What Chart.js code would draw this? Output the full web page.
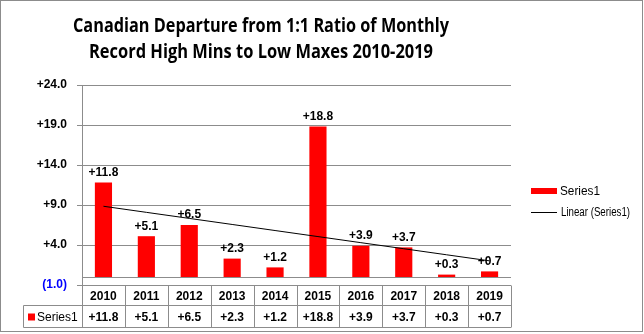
<!DOCTYPE html>
<html>
<head>
<meta charset="utf-8">
<script src="https://cdn.jsdelivr.net/npm/chart.js@4.4.1/dist/chart.umd.min.js"></script>
<style>
  html, body { margin: 0; padding: 0; background: #fff; }
  #wrap { width: 644px; height: 334px; }
</style>
</head>
<body>
<div id="wrap"><canvas id="chart" width="644" height="334"></canvas></div>
<script>
const years = ['2010', '2011', '2012', '2013', '2014', '2015', '2016', '2017', '2018', '2019'];
const series1 = [11.8, 5.1, 6.5, 2.3, 1.2, 18.8, 3.9, 3.7, 0.3, 0.7];
const titleLines = ['Canadian Departure from 1:1 Ratio of Monthly', 'Record High Mins to Low Maxes 2010-2019'];
const yMin = -1, yMax = 24, yStep = 5;

// linear trendline (least squares), as Excel does
function linearFit(vals) {
  const n = vals.length;
  let sx = 0, sy = 0, sxy = 0, sxx = 0;
  vals.forEach(function (v, i) { sx += i; sy += v; sxy += i * v; sxx += i * i; });
  const slope = (n * sxy - sx * sy) / (n * sxx - sx * sx);
  const icpt = (sy - slope * sx) / n;
  return vals.map(function (v, i) { return icpt + slope * i; });
}
const trend = linearFit(series1);

const fmt = function (v) {
  return v < 0 ? '(' + Math.abs(v).toFixed(1) + ')' : '+' + v.toFixed(1);
};

const gridGray = '#8c8c8c';
const font = '"Liberation Sans", Arial, sans-serif';

// draw text squeezed horizontally to a given width (narrow Calibri look)
function fitText(ctx, txt, x, y, w, align) {
  const m = ctx.measureText(txt).width;
  const k = Math.min(1, w / m);
  ctx.save();
  ctx.translate(x, y);
  ctx.scale(k, 1);
  ctx.textAlign = align;
  ctx.fillText(txt, 0, 0);
  ctx.restore();
}

const extras = {
  id: 'extras',
  afterDatasetsDraw(chart) {
    const ctx = chart.ctx;
    const x = chart.scales.x, y = chart.scales.y;
    const area = chart.chartArea;
    ctx.save();

    // horizontal axis at zero
    ctx.strokeStyle = gridGray;
    ctx.lineWidth = 1;
    const y0 = Math.round(y.getPixelForValue(0)) + 0.5;
    ctx.beginPath(); ctx.moveTo(area.left, y0); ctx.lineTo(area.right, y0); ctx.stroke();

    // bar value labels
    ctx.fillStyle = '#000';
    ctx.font = 'bold 12px ' + font;
    ctx.textAlign = 'center';
    ctx.textBaseline = 'bottom';
    chart.getDatasetMeta(0).data.forEach(function (bar, i) {
      ctx.fillText(fmt(series1[i]), bar.x, bar.y - 4);
    });

    // data table
    const top = Math.round(area.bottom) + 0.5;
    const mid = top + 20, bot = top + 42;
    const tLeft = 23.5;
    const step = (area.right - area.left) / years.length;
    ctx.beginPath();
    ctx.moveTo(area.left, top); ctx.lineTo(area.right, top);
    ctx.moveTo(tLeft, mid); ctx.lineTo(area.right, mid);
    ctx.moveTo(tLeft, bot); ctx.lineTo(area.right, bot);
    ctx.moveTo(tLeft, mid); ctx.lineTo(tLeft, bot);
    for (let i = 0; i <= years.length; i++) {
      const xx = Math.round(area.left + i * step) + 0.5;
      ctx.moveTo(xx, top); ctx.lineTo(xx, bot);
    }
    ctx.stroke();

    ctx.textBaseline = 'middle';
    ctx.fillStyle = '#000';
    years.forEach(function (yr, i) {
      const cx = x.getPixelForValue(i);
      ctx.fillText(yr, cx, (top + mid) / 2 + 1);
      ctx.fillText(fmt(series1[i]), cx, (mid + bot) / 2 + 1);
    });
    ctx.fillStyle = '#ff0000';
    ctx.fillRect(28, (mid + bot) / 2 - 3, 7, 7);
    ctx.fillStyle = '#000';
    ctx.font = '12px ' + font;
    fitText(ctx, 'Series1', 37, (mid + bot) / 2 + 1, 43, 'left');

    // legend
    ctx.font = '12px ' + font;
    ctx.fillStyle = '#ff0000';
    ctx.fillRect(531, 188, 26, 6);
    ctx.fillStyle = '#000';
    fitText(ctx, 'Series1', 560, 192, 40, 'left');
    ctx.strokeStyle = '#000';
    ctx.beginPath(); ctx.moveTo(531, 212.5); ctx.lineTo(557, 212.5); ctx.stroke();
    fitText(ctx, 'Linear (Series1)', 561, 213, 69, 'left');

    // title
    ctx.font = 'bold 20px "Open Sans", sans-serif';
    fitText(ctx, titleLines[0], 261, 26, 376, 'center');
    fitText(ctx, titleLines[1], 261, 52, 344, 'center');

    // outer border
    ctx.strokeStyle = '#8c8c8c';
    ctx.strokeRect(0.5, 0.5, chart.width - 2, chart.height - 3);
    ctx.restore();
  }
};

new Chart(document.getElementById('chart'), {
  type: 'bar',
  data: {
    labels: years,
    datasets: [{
      type: 'bar',
      label: 'Series1',
      data: series1,
      backgroundColor: '#ff0000',
      borderWidth: 0,
      barPercentage: 0.8,
      categoryPercentage: 0.5,
      order: 2
    }, {
      type: 'line',
      label: 'Linear (Series1)',
      data: trend,
      borderColor: '#000',
      borderWidth: 1,
      pointRadius: 0,
      fill: false,
      order: 1
    }]
  },
  options: {
    responsive: false,
    animation: false,
    events: [],
    layout: { padding: { left: 0, top: 85, right: 644 - 511, bottom: 334 - 285 } },
    plugins: { legend: { display: false }, title: { display: false }, tooltip: { enabled: false } },
    scales: {
      x: { display: false, offset: true },
      y: {
        min: yMin, max: yMax,
        afterFit: function (s) { s.width = 82; },
        ticks: {
          stepSize: yStep,
          padding: 10,
          font: { family: font, size: 12, weight: 'bold' },
          color: function (c) { return c.tick.value < 0 ? '#0000ff' : '#000'; },
          callback: function (v) { return fmt(v); }
        },
        grid: { color: gridGray, tickLength: 5, lineWidth: 1 },
        border: { color: gridGray }
      }
    }
  },
  plugins: [extras]
});
</script>
</body>
</html>
